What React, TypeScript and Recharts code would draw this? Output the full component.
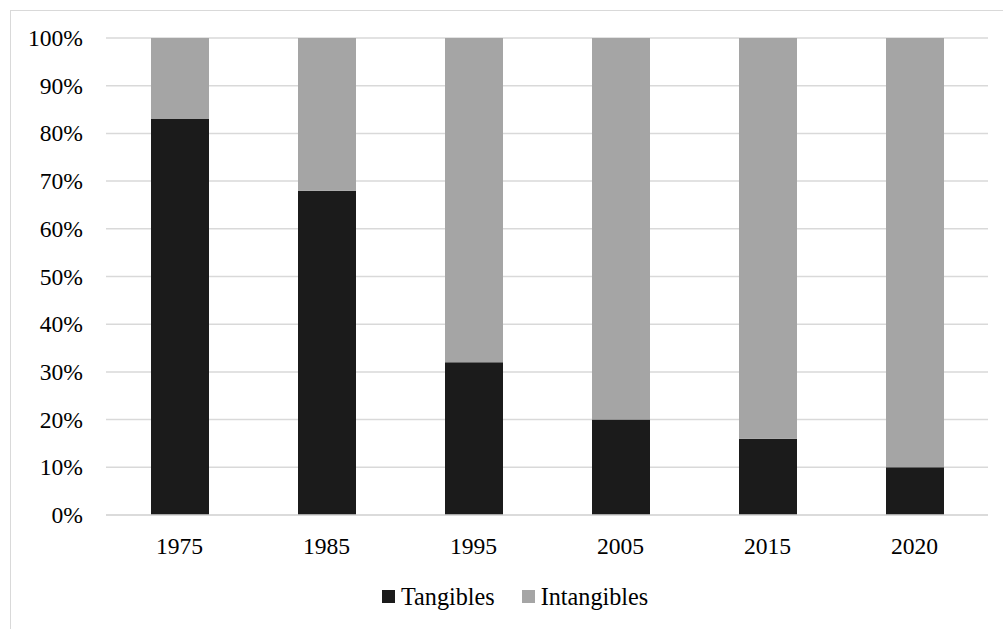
import React from 'react';
import { BarChart, Bar, XAxis, YAxis, CartesianGrid } from 'recharts';

const YEARS = ['1975', '1985', '1995', '2005', '2015', '2020'];
const TANGIBLES = [83, 68, 32, 20, 16, 10];
const INTANGIBLES = [17, 32, 68, 80, 84, 90];
const Y_TICKS = [0, 10, 20, 30, 40, 50, 60, 70, 80, 90, 100];

const FONT = "'Liberation Serif', 'Times New Roman', serif";
const FONT_SIZE = 23.6;
const DARK = '#1b1b1b';
const LIGHT = '#a5a5a5';
const GRID = '#d9d9d9';

const data = YEARS.map((year, i) => ({
  year,
  tangibles: TANGIBLES[i],
  intangibles: INTANGIBLES[i],
}));

const LEGEND_ITEMS = [
  { name: 'Tangibles', color: DARK },
  { name: 'Intangibles', color: LIGHT },
];

function ChartLegend() {
  return (
    <div style={{ position: 'absolute', top: 583, left: 382, display: 'flex', alignItems: 'center', fontFamily: FONT, fontSize: 24.2, color: '#000', lineHeight: '27px' }}>
      {LEGEND_ITEMS.map((it, i) => (
        <div key={it.name} style={{ display: 'flex', alignItems: 'center', marginRight: i === 0 ? 27 : 0 }}>
          <span style={{ width: 13, height: 13, background: it.color, display: 'inline-block', marginRight: 6 }} />
          <span>{it.name}</span>
        </div>
      ))}
    </div>
  );
}

function XTick(props: any) {
  const { x, y, payload } = props;
  return (
    <text x={x} y={y} dy={FONT_SIZE * 0.71} textAnchor="middle" fill="#000" style={{ fontFamily: FONT, fontSize: FONT_SIZE }}>
      {payload.value}
    </text>
  );
}

function YTick(props: any) {
  const { x, y, payload } = props;
  return (
    <text x={x} y={y} dy={FONT_SIZE * 0.34} textAnchor="end" fill="#000" style={{ fontFamily: FONT, fontSize: FONT_SIZE }}>
      {`${payload.value}%`}
    </text>
  );
}

export default function App() {
  return (
    <div style={{ position: 'absolute', top: 0, left: 0, width: 1003, height: 629, overflow: 'hidden', background: '#fff', fontFamily: FONT }}>
      <div style={{ position: 'absolute', left: 10, top: 10, width: 1100, height: 700, borderTop: `1px solid ${GRID}`, borderLeft: `1px solid ${GRID}` }} />
      <BarChart
        width={1003}
        height={629}
        data={data}
        margin={{ top: 38, right: 15, bottom: 0, left: 0 }}
        barSize={58}
      >
        <CartesianGrid vertical={false} stroke={GRID} strokeWidth={1.5} />
        <XAxis
          dataKey="year"
          axisLine={{ stroke: GRID, strokeWidth: 1.5 }}
          tickLine={false}
          tickSize={0}
          tickMargin={22}
          height={114}
          tick={<XTick />}
        />
        <YAxis
          domain={[0, 100]}
          ticks={Y_TICKS}
          axisLine={false}
          tickLine={false}
          tickSize={0}
          tickMargin={23}
          width={106}
          interval={0}
          tick={<YTick />}
        />
        <Bar dataKey="tangibles" name="Tangibles" stackId="a" fill={DARK} isAnimationActive={false} />
        <Bar dataKey="intangibles" name="Intangibles" stackId="a" fill={LIGHT} isAnimationActive={false} />
      </BarChart>
      <ChartLegend />
    </div>
  );
}
